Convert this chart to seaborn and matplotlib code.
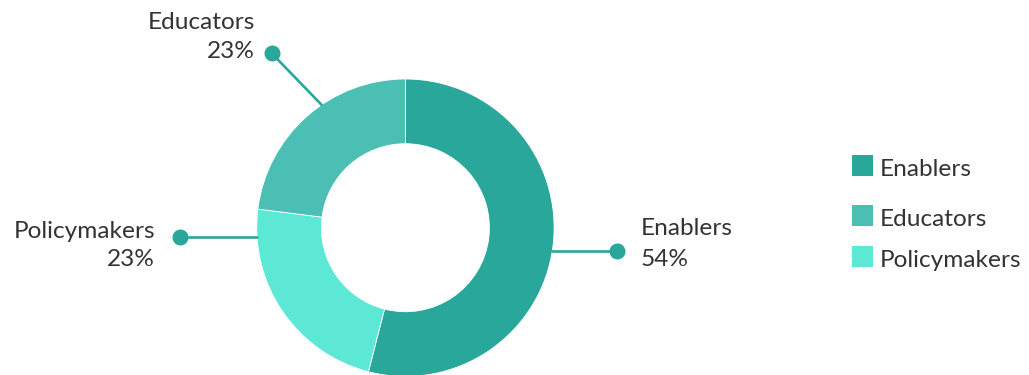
import matplotlib
matplotlib.use("Agg")
import matplotlib.pyplot as plt
from matplotlib.patches import Rectangle
import seaborn as sns
import numpy as np

# Share of respondents by group, listed clockwise from 12 o'clock
groups = ["Enablers", "Policymakers", "Educators"]
shares = [54, 23, 23]
legend_order = ["Enablers", "Educators", "Policymakers"]
palette = {"Enablers": "#29a79a", "Educators": "#4bbfb3", "Policymakers": "#5de8d6"}

sns.set_theme(style="white")
plt.rcParams["font.family"] = ["Lato", "DejaVu Sans"]

W, H = 1029, 375
TEXT = "#333333"
LINE = "#29a79a"
FS = 17.6

fig = plt.figure(figsize=(W / 100, H / 100), dpi=100)
ax = fig.add_axes([0, 0, 1, 1])

# ring geometry in pixel units (y measured from the top)
cx, cy = 405.4, 227.7
R = 148.7
ring = 0.435 * R


def up(y):
    return H - y


ax.pie(
    shares,
    colors=[palette[g] for g in groups],
    startangle=90,
    counterclock=False,
    radius=R,
    center=(cx, up(cy)),
    wedgeprops=dict(width=ring, edgecolor="white", linewidth=0.6),
)

# leader lines: angle where the line meets the ring, dot position, label placement
leaders = {
    "Enablers": dict(angle=-8.9, dot=(616.7, None), tx=641, ha="left", base=(235, 265.7)),
    "Policymakers": dict(angle=183.5, dot=(180, None), tx=155, ha="right", base=(237.7, 265.7)),
    "Educators": dict(angle=124.3, dot=(271.7, 53.3), tx=255, ha="right", base=(29, 57.7)),
}

for g, s in zip(groups, shares):
    spec = leaders[g]
    a = np.deg2rad(spec["angle"])
    ex, ey = cx + R * np.cos(a), cy - R * np.sin(a)
    dx, dy = spec["dot"]
    if dy is None:
        dy = ey
    ax.plot([ex, dx], [up(ey), up(dy)], color=LINE, lw=1.9, solid_capstyle="round", zorder=3)
    ax.plot([dx], [up(dy)], "o", color=LINE, ms=10.5, zorder=4)
    ax.text(spec["tx"], up(spec["base"][0]), g, ha=spec["ha"], va="baseline",
            fontsize=FS, color=TEXT)
    ax.text(spec["tx"], up(spec["base"][1]), f"{s}%", ha=spec["ha"], va="baseline",
            fontsize=FS, color=TEXT)

# legend
legend_rows = [(155, 176), (205, 225.5), (246, 266.7)]
for g, (top, base) in zip(legend_order, legend_rows):
    ax.add_patch(Rectangle((851.7, up(top + 21)), 21, 21, facecolor=palette[g],
                           edgecolor="none"))
    ax.text(880, up(base), g, ha="left", va="baseline", fontsize=FS, color=TEXT)

ax.set_xlim(0, W)
ax.set_ylim(0, H)
ax.set_aspect("equal")
ax.axis("off")

fig.savefig("out.png", dpi=100)
